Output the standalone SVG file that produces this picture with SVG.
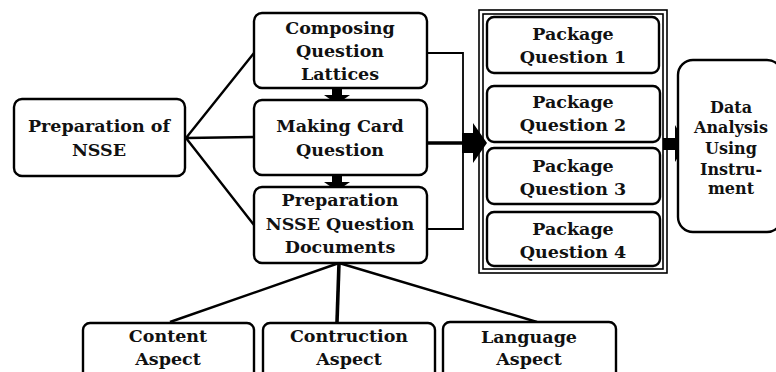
<svg xmlns="http://www.w3.org/2000/svg" width="776" height="372" viewBox="0 0 776 372">
<style>
.box{fill:#fff;stroke:#000;stroke-width:2.4}
.frame{fill:none;stroke:#000;stroke-width:1.6}
.ln{fill:none;stroke:#000;stroke-width:2.4}
.thin{fill:none;stroke:#000;stroke-width:1.8}
.thick{fill:none;stroke:#000;stroke-width:3.6}
.ah{fill:#000;stroke:none}
text{font-family:"DejaVu Serif","Liberation Serif",serif;font-weight:bold;font-size:17.5px;fill:#111;text-anchor:middle}
.sm{font-size:16px}
</style>
<rect width="776" height="372" fill="#fff"/>
<g id="connectors">
<path class="ln" d="M186,138 L254,53 M186,138 L254,137 M186,138 L254,225"/>
<path class="thin" d="M423,53 H463 V229 H423"/>
<path class="thick" d="M423,143 H463"/>
<polygon class="ah" points="462,133 473,133 473,123 487,143 473,163 473,153 462,153"/>
<polygon class="ah" points="663,138 675,138 675,125 686,144 675,162 675,150 663,150"/>
<rect class="ah" x="332" y="88" width="10" height="8"/>
<polygon class="ah" points="324,95 350,95 337,104"/>
<rect class="ah" x="332" y="175" width="10" height="8"/>
<polygon class="ah" points="324,182 350,182 337,191"/>
<path class="ln" d="M339,263 L170,322 M339,263 L537,322"/>
<path class="thick" d="M339,263 L337,322"/>
</g>
<g id="prep-nsse">
<rect class="box" x="14" y="99" width="171" height="77" rx="8"/>
<text x="99" y="132">Preparation of</text>
<text x="99" y="156">NSSE</text>
</g>
<g id="composing">
<rect class="box" x="254" y="13" width="173" height="75" rx="8"/>
<text x="340" y="34">Composing</text>
<text x="340" y="57">Question</text>
<text x="340" y="80">Lattices</text>
</g>
<g id="making-card">
<rect class="box" x="254" y="100" width="173" height="75" rx="8"/>
<text x="340" y="132">Making Card</text>
<text x="340" y="156">Question</text>
</g>
<g id="prep-docs">
<rect class="box" x="254" y="187" width="173" height="76" rx="8"/>
<text x="340" y="206">Preparation</text>
<text x="340" y="230">NSSE Question</text>
<text x="340" y="253">Documents</text>
</g>
<g id="packages">
<rect class="frame" x="479" y="10" width="188" height="263"/>
<rect class="frame" x="483" y="14" width="180" height="255"/>
</g>
<g id="package-1">
<rect class="box" x="487" y="17" width="172" height="56" rx="7"/>
<text x="573" y="40">Package</text>
<text x="573" y="63">Question 1</text>
</g>
<g id="package-2">
<rect class="box" x="487" y="86" width="173" height="56" rx="7"/>
<text x="573" y="108">Package</text>
<text x="573" y="131">Question 2</text>
</g>
<g id="package-3">
<rect class="box" x="487" y="148" width="173" height="56" rx="7"/>
<text x="573" y="172">Package</text>
<text x="573" y="195">Question 3</text>
</g>
<g id="package-4">
<rect class="box" x="487" y="212" width="173" height="54" rx="7"/>
<text x="573" y="235">Package</text>
<text x="573" y="258">Question 4</text>
</g>
<g id="data-analysis">
<rect class="box" x="678" y="60" width="104" height="172" rx="15"/>
<text class="sm" x="731" y="113">Data</text>
<text class="sm" x="731" y="133">Analysis</text>
<text class="sm" x="731" y="154">Using</text>
<text class="sm" x="731" y="175">Instru-</text>
<text class="sm" x="731" y="194">ment</text>
</g>
<g id="content-aspect">
<rect class="box" x="83" y="323" width="171" height="70" rx="7"/>
<text x="168" y="342">Content</text>
<text x="168" y="365">Aspect</text>
</g>
<g id="contruction-aspect">
<rect class="box" x="263" y="323" width="172" height="70" rx="7"/>
<text x="349" y="342">Contruction</text>
<text x="349" y="365">Aspect</text>
</g>
<g id="language-aspect">
<rect class="box" x="443" y="322" width="173" height="70" rx="7"/>
<text x="529" y="343">Language</text>
<text x="529" y="365">Aspect</text>
</g>
</svg>
